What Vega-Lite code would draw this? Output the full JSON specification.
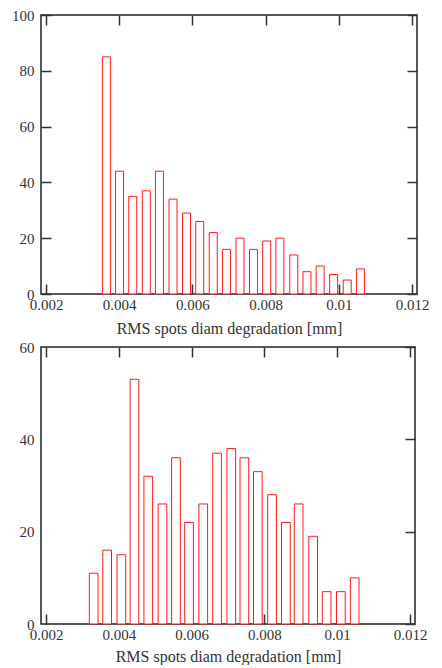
{
  "$schema": "https://vega.github.io/schema/vega-lite/v6.json",
  "padding": {"left": 0, "top": 7, "right": 0, "bottom": 0},
  "background": "white",
  "spacing": 2,
  "config": {
    "font": "Times New Roman, Liberation Serif, serif",
    "view": {"stroke": "#222222", "strokeWidth": 1.5},
    "axis": {
      "domain": false,
      "grid": false,
      "labelFont": "Times New Roman, Liberation Serif, serif",
      "titleFont": "Times New Roman, Liberation Serif, serif",
      "labelFontSize": 15,
      "titleFontSize": 16,
      "titleFontWeight": "normal",
      "labelColor": "#333333",
      "titleColor": "#333333",
      "tickColor": "#333333",
      "tickWidth": 1.5,
      "tickSize": -10
    }
  },
  "datasets": {
    "top": [
      {"x": 0.00365, "n": 85}, {"x": 0.00401, "n": 44}, {"x": 0.00437, "n": 35},
      {"x": 0.00474, "n": 37}, {"x": 0.00510, "n": 44}, {"x": 0.00547, "n": 34},
      {"x": 0.00584, "n": 29}, {"x": 0.00620, "n": 26}, {"x": 0.00657, "n": 22},
      {"x": 0.00693, "n": 16}, {"x": 0.00730, "n": 20}, {"x": 0.00767, "n": 16},
      {"x": 0.00803, "n": 19}, {"x": 0.00839, "n": 20}, {"x": 0.00877, "n": 14},
      {"x": 0.00913, "n": 8}, {"x": 0.00949, "n": 10}, {"x": 0.00986, "n": 7},
      {"x": 0.01023, "n": 5}, {"x": 0.01059, "n": 9}
    ],
    "bottom": [
      {"x": 0.00331, "n": 11}, {"x": 0.00368, "n": 16}, {"x": 0.00407, "n": 15},
      {"x": 0.00443, "n": 53}, {"x": 0.00481, "n": 32}, {"x": 0.00520, "n": 26},
      {"x": 0.00557, "n": 36}, {"x": 0.00593, "n": 22}, {"x": 0.00632, "n": 26},
      {"x": 0.00670, "n": 37}, {"x": 0.00709, "n": 38}, {"x": 0.00745, "n": 36},
      {"x": 0.00782, "n": 33}, {"x": 0.00821, "n": 28}, {"x": 0.00859, "n": 22},
      {"x": 0.00894, "n": 26}, {"x": 0.00934, "n": 19}, {"x": 0.00971, "n": 7},
      {"x": 0.01010, "n": 7}, {"x": 0.01048, "n": 10}
    ]
  },
  "vconcat": [
    {
      "width": 376,
      "height": 279,
      "data": {"name": "top"},
      "resolve": {"axis": {"x": "independent", "y": "independent"}},
      "layer": [
        {
          "mark": {"type": "bar", "width": 8, "fill": "white", "stroke": "#ff1a1a", "strokeWidth": 1},
          "encoding": {
            "x": {
              "field": "x", "type": "quantitative",
              "scale": {"domain": [0.002, 0.012], "nice": false, "zero": false},
              "axis": {"values": [0.002, 0.004, 0.006, 0.008, 0.01, 0.012], "format": "~g", "labelBaseline": "top", "labelPadding": 13, "title": "RMS spots diam degradation [mm]", "titlePadding": 8, "labelFlush": false}
            },
            "y": {
              "field": "n", "type": "quantitative",
              "scale": {"domain": [0, 100], "nice": false},
              "axis": {"values": [0, 20, 40, 60, 80, 100], "labelPadding": 17, "title": null, "minExtent": 40, "maxExtent": 40}
            }
          }
        },
        {
          "mark": {"type": "point", "opacity": 0},
          "encoding": {
            "x": {"field": "x", "type": "quantitative", "axis": {"orient": "top", "values": [0.002, 0.004, 0.006, 0.008, 0.01, 0.012], "labels": false, "title": null}},
            "y": {"field": "n", "type": "quantitative", "axis": {"orient": "right", "values": [0, 20, 40, 60, 80, 100], "labels": false, "title": null}}
          }
        }
      ]
    },
    {
      "width": 374,
      "height": 277,
      "data": {"name": "bottom"},
      "resolve": {"axis": {"x": "independent", "y": "independent"}},
      "layer": [
        {
          "mark": {"type": "bar", "width": 8.7, "fill": "white", "stroke": "#ff1a1a", "strokeWidth": 1},
          "encoding": {
            "x": {
              "field": "x", "type": "quantitative",
              "scale": {"domain": [0.002, 0.012], "nice": false, "zero": false},
              "axis": {"values": [0.002, 0.004, 0.006, 0.008, 0.01, 0.012], "format": "~g", "labelBaseline": "top", "labelPadding": 13, "title": "RMS spots diam degradation [mm]", "titlePadding": 6, "labelFlush": false}
            },
            "y": {
              "field": "n", "type": "quantitative",
              "scale": {"domain": [0, 60], "nice": false},
              "axis": {"values": [0, 20, 40, 60], "labelPadding": 7, "title": null, "ticks": false, "minExtent": 39, "maxExtent": 39}
            }
          }
        },
        {
          "mark": {"type": "point", "opacity": 0},
          "encoding": {
            "x": {"field": "x", "type": "quantitative", "axis": {"orient": "top", "values": [0.002, 0.004, 0.006, 0.008, 0.01, 0.012], "labels": false, "title": null}},
            "y": {"field": "n", "type": "quantitative", "axis": {"orient": "right", "values": [0, 20, 40, 60], "labels": false, "title": null}}
          }
        }
      ]
    }
  ]
}
